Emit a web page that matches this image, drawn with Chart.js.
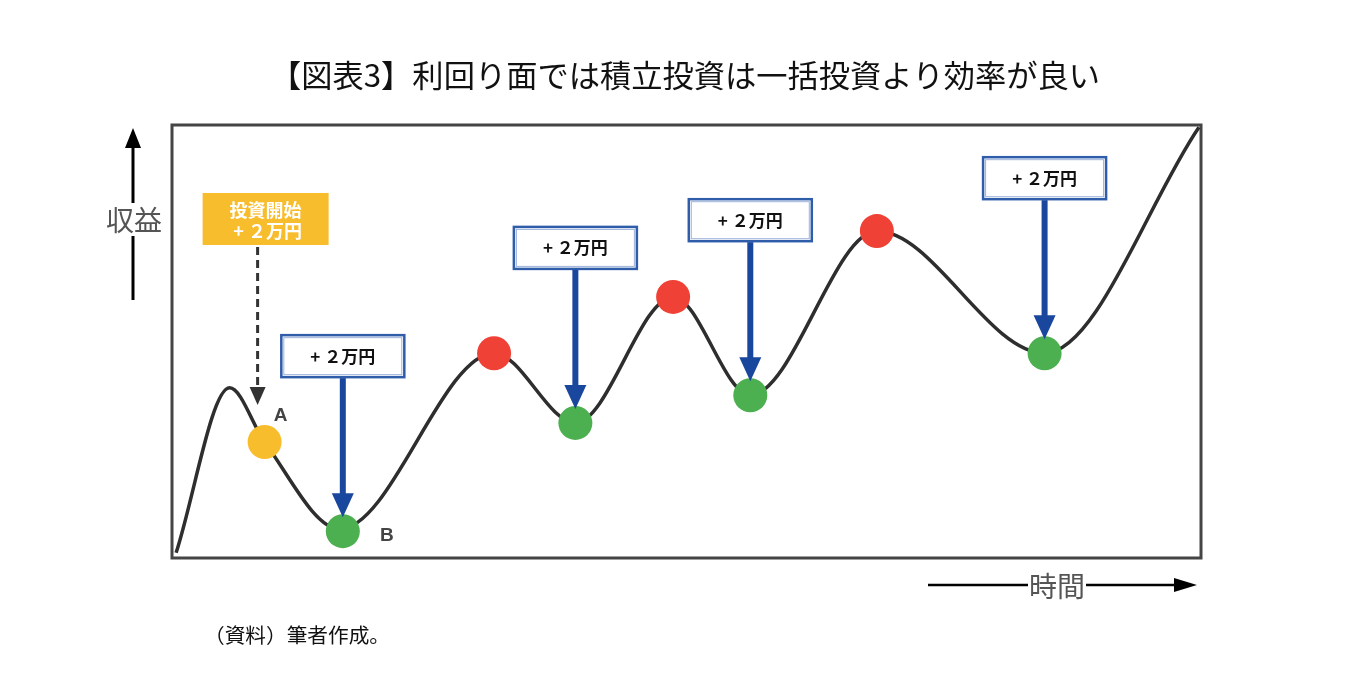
<!DOCTYPE html>
<html>
<head>
<meta charset="utf-8">
<script src="https://cdn.jsdelivr.net/npm/chart.js@4.4.1/dist/chart.umd.min.js"></script>
<style>
html,body{margin:0;padding:0;background:#fff;}
#wrap{width:1360px;height:697px;position:relative;}
</style>
</head>
<body>
<div id="wrap"><canvas id="c"></canvas></div>
<script>
// ---- data (schematic units 0..100 on both axes) ----
const titleText = '【図表3】利回り面では積立投資は一括投資より効率が良い';
const sourceText = '（資料）筆者作成。';
const yAxisLabel = '収益';
const xAxisLabel = '時間';
const startLabel = ['投資開始', '+ ２万円'];
const addLabel = '+ ２万円';

// price path
const curveX = [0.4, 5.6, 9.0, 16.3, 31.3, 39.2, 48.7, 56.2, 68.5, 84.8, 99.8];
const curveY = [1.2, 39.3, 26.8, 6.7, 47.3, 31.2, 60.3, 37.6, 75.5, 47.3, 99.5];

// start point A (lump sum)
const startX = [9.0];
const startY = [26.8];
// monthly additions (troughs, green)
const buyX = [16.6, 39.2, 56.2, 84.8];
const buyY = [6.2, 31.2, 37.6, 47.3];
// peaks (red)
const peakX = [31.3, 48.7, 68.5];
const peakY = [47.3, 60.3, 75.5];
// point labels
const pointLabels = ['A', 'B'];

const FONT = "'Noto Sans CJK JP','Noto Sans',sans-serif";

function toPts(xs, ys){ return xs.map((x,i)=>({x:x, y:ys[i]})); }

function arrowDown(ctx, x, y0, tip, shaftW, headW, headH, color, dash){
  ctx.save();
  ctx.strokeStyle = color; ctx.fillStyle = color;
  ctx.lineWidth = shaftW;
  if (dash) ctx.setLineDash(dash);
  ctx.beginPath(); ctx.moveTo(x, y0); ctx.lineTo(x, tip - headH + 1); ctx.stroke();
  ctx.setLineDash([]);
  ctx.beginPath();
  ctx.moveTo(x - headW/2, tip - headH);
  ctx.lineTo(x + headW/2, tip - headH);
  ctx.lineTo(x, tip);
  ctx.closePath(); ctx.fill();
  ctx.restore();
}

function fitText(ctx, text, cx, cy, targetW){
  const w = ctx.measureText(text).width;
  ctx.save();
  ctx.translate(cx, cy);
  ctx.scale(targetW / w, 1);
  ctx.textAlign = 'center';
  ctx.fillText(text, 0, 0);
  ctx.restore();
}

const decor = {
  id: 'decor',
  beforeDatasetsDraw(chart){
    const ctx = chart.ctx, a = chart.chartArea;
    ctx.save();
    ctx.strokeStyle = '#454545'; ctx.lineWidth = 3;
    ctx.strokeRect(a.left, a.top, a.right - a.left, a.bottom - a.top);
    ctx.restore();
  },
  afterDatasetsDraw(chart){
    const ctx = chart.ctx, a = chart.chartArea;
    const xs = chart.scales.x, ys = chart.scales.y;
    ctx.save();
    ctx.textBaseline = 'middle';
    // title
    ctx.fillStyle = '#111';
    ctx.font = '400 31px ' + FONT;
    fitText(ctx, titleText, 685, 75, 830);

    // source
    ctx.font = '400 20px ' + FONT;
    fitText(ctx, sourceText, 297, 635, 186);

    // y axis arrow
    const yx = a.left - 39;
    ctx.strokeStyle = '#000'; ctx.fillStyle = '#000'; ctx.lineWidth = 3;
    ctx.beginPath(); ctx.moveTo(yx, 300); ctx.lineTo(yx, 145); ctx.stroke();
    ctx.beginPath(); ctx.moveTo(yx - 8, 148); ctx.lineTo(yx + 8, 148); ctx.lineTo(yx, a.top + 3); ctx.closePath(); ctx.fill();
    ctx.font = '400 28px ' + FONT;
    const yw = ctx.measureText(yAxisLabel).width;
    ctx.fillStyle = '#fff'; ctx.fillRect(yx - yw/2 - 2, 203, yw + 4, 33);
    ctx.fillStyle = '#555'; ctx.textAlign = 'center';
    ctx.fillText(yAxisLabel, yx + 1, 220);

    // x axis arrow
    const xy = 585;
    ctx.strokeStyle = '#000'; ctx.fillStyle = '#000'; ctx.lineWidth = 2.5;
    ctx.beginPath(); ctx.moveTo(928, xy); ctx.lineTo(1180, xy); ctx.stroke();
    ctx.beginPath(); ctx.moveTo(1174, xy - 7); ctx.lineTo(1174, xy + 7); ctx.lineTo(a.right - 4, xy); ctx.closePath(); ctx.fill();
    ctx.font = '400 28px ' + FONT;
    const xw = ctx.measureText(xAxisLabel).width;
    ctx.fillStyle = '#fff'; ctx.fillRect(1057 - xw/2 - 1, xy - 15, xw + 2, 30);
    ctx.fillStyle = '#555';
    ctx.fillText(xAxisLabel, 1057, xy + 1);

    // start box and dashed arrow
    const ax = xs.getPixelForValue(startX[0]), ay = ys.getPixelForValue(startY[0]);
    const bx = ax - 62, by = 193, bw = 126, bh = 52;
    ctx.fillStyle = '#F8BD2C';
    ctx.fillRect(bx, by, bw, bh);
    ctx.fillStyle = '#fff';
    ctx.font = '700 18px ' + FONT;
    ctx.fillText(startLabel[0], bx + bw/2, by + 17);
    ctx.fillText(startLabel[1], bx + bw/2 + 2, by + 38);
    arrowDown(ctx, ax - 7, by + bh + 2, ay - 37, 3, 16, 18, '#333', [8, 5]);

    // addition boxes and arrows
    buyX.forEach((v, i) => {
      const px = xs.getPixelForValue(v), py = ys.getPixelForValue(buyY[i]);
      const tip = py - 14;
      const boxBottom = tip - 140;
      const w = 123, h = 42;
      const l = px - w/2, t = boxBottom - h;
      ctx.fillStyle = '#fff';
      ctx.fillRect(l, t, w, h);
      ctx.strokeStyle = '#2F5DAA'; ctx.lineWidth = 2.5;
      ctx.strokeRect(l, t, w, h);
      ctx.strokeStyle = '#9DB3DA'; ctx.lineWidth = 1;
      ctx.strokeRect(l + 2.5, t + 2.5, w - 5, h - 5);
      ctx.fillStyle = '#111';
      ctx.font = '700 17px ' + FONT;
      ctx.textAlign = 'center';
      ctx.fillText(addLabel, px, t + h/2);
      arrowDown(ctx, px, boxBottom + 1, tip, 6, 22, 24, '#1A479E');
    });

    // A / B labels
    ctx.fillStyle = '#444';
    ctx.font = "700 19px 'Liberation Sans', Arial, sans-serif";
    ctx.fillText(pointLabels[0], ax + 16, ay - 26);
    const b0x = xs.getPixelForValue(buyX[0]), b0y = ys.getPixelForValue(buyY[0]);
    ctx.fillText(pointLabels[1], b0x + 44, b0y + 5);
    ctx.restore();
  }
};

new Chart(document.getElementById('c'), {
  type: 'scatter',
  data: {
    datasets: [
      { data: toPts(startX, startY), pointRadius: 17, pointHoverRadius: 17, pointBackgroundColor: '#F8BD2C', pointBorderWidth: 0, showLine: false, clip: false },
      { data: toPts(buyX, buyY), pointRadius: 17, pointHoverRadius: 17, pointBackgroundColor: '#4CAF50', pointBorderWidth: 0, showLine: false, clip: false },
      { data: toPts(peakX, peakY), pointRadius: 17, pointHoverRadius: 17, pointBackgroundColor: '#EF4136', pointBorderWidth: 0, showLine: false, clip: false },
      { data: toPts(curveX, curveY), showLine: true, borderColor: '#2E2E2E', borderWidth: 3.5, pointRadius: 0, cubicInterpolationMode: 'monotone', fill: false, clip: false }
    ]
  },
  options: {
    responsive: true,
    maintainAspectRatio: false,
    animation: false,
    devicePixelRatio: 1,
    layout: { padding: { left: 172, top: 125, right: 159, bottom: 139 } },
    scales: {
      x: { type: 'linear', min: 0, max: 100, display: false },
      y: { type: 'linear', min: 0, max: 100, display: false }
    },
    plugins: { legend: { display: false }, tooltip: { enabled: false }, title: { display: false } },
    events: []
  },
  plugins: [decor]
});
</script>
</body>
</html>
